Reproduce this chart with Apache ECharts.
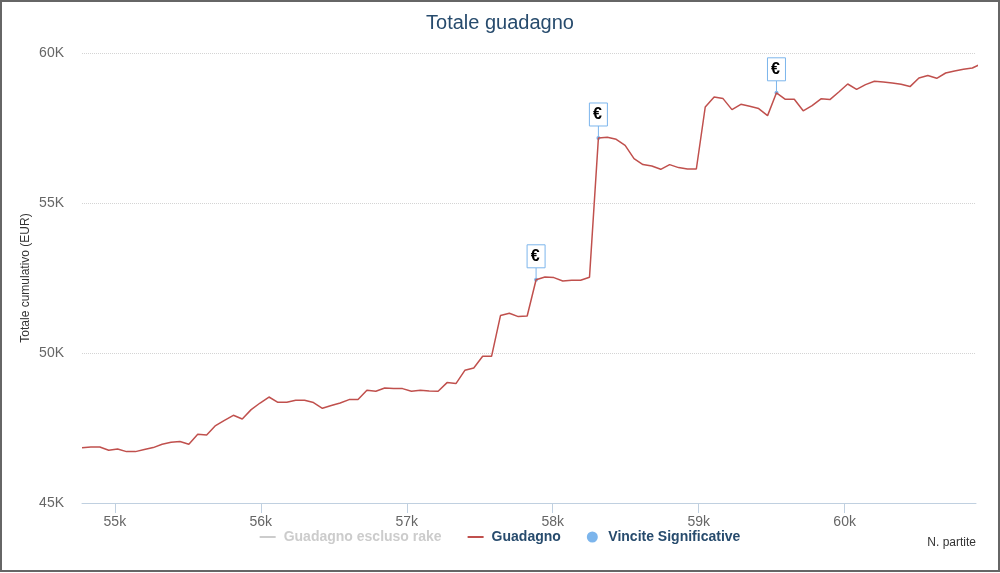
<!DOCTYPE html>
<html>
<head>
    <meta charset="utf-8">
    <title>Totale guadagno</title>
    <script src="https://cdn.jsdelivr.net/npm/echarts@6/dist/echarts.min.js"></script>
    <style>
        body { margin: 0; background: #fff; }
        #frame { position: absolute; left: 0; top: 0; width: 1000px; height: 572px; box-sizing: border-box; border: 2px solid #666; pointer-events: none; }
    </style>
</head>
<body>
<div id="main" style="width: 1000px;height:573px;"></div>
<div id="frame"></div>
<script type="text/javascript">
    // N. partite (x) for each point of the cumulative line
    var games = [
        54775, 54836, 54897, 54958, 55019, 55080, 55141, 55202, 55263, 55324,
        55385, 55446, 55507, 55568, 55629, 55690, 55751, 55812, 55873, 55934,
        55995, 56056, 56117, 56178, 56239, 56300, 56361, 56422, 56483, 56544,
        56605, 56666, 56727, 56788, 56849, 56910, 56971, 57032, 57093, 57154,
        57215, 57276, 57337, 57398, 57459, 57520, 57581, 57642, 57703, 57764,
        57825, 57886, 57947, 58008, 58069, 58130, 58191, 58252, 58313, 58374,
        58435, 58496, 58557, 58618, 58679, 58740, 58801, 58862, 58923, 58984,
        59045, 59106, 59167, 59228, 59289, 59350, 59411, 59472, 59533, 59594,
        59655, 59716, 59777, 59838, 59899, 59960, 60021, 60082, 60143, 60204,
        60265, 60326, 60387, 60448, 60509, 60570, 60631, 60692, 60753, 60814,
        60875, 60936
    ];
    // Guadagno (EUR, cumulative)
    var guadagno = [
        46840, 46867, 46867, 46757, 46800, 46713, 46713, 46780, 46847, 46957,
        47023, 47047, 46957, 47290, 47267, 47580, 47757, 47923, 47800, 48113,
        48333, 48533, 48357, 48357, 48423, 48423, 48347, 48157, 48247, 48333,
        48447, 48447, 48757, 48723, 48833, 48813, 48813, 48723, 48757, 48733,
        48723, 49013, 48980, 49423, 49500, 49890, 49890, 51247, 51323, 51213,
        51233, 52440, 52533, 52513, 52400, 52423, 52423, 52523, 57167, 57190,
        57123, 56923, 56480, 56280, 56233, 56123, 56280, 56180, 56133, 56133,
        58200, 58533, 58480, 58113, 58290, 58223, 58147, 57913, 58673, 58457,
        58457, 58073, 58247, 58473, 58447, 58700, 58967, 58790, 58947, 59057,
        59033, 59000, 58957, 58880, 59167, 59247, 59157, 59333, 59400, 59457,
        59500, 59640
    ];
    // Vincite Significative (flags)
    var flagGames = [57886, 58313, 59533];
    var flagValues = [52440, 57167, 58673];
    var flagText = '€';

    var xTicks = [55000, 56000, 57000, 58000, 59000, 60000];

    var fontFamily = '"Liberation Sans", Arial, sans-serif';
    var flagColor = '#7cb5ec';
    var lineIcon = 'path://M0,0 L16,0 L16,2 L0,2 Z';

    var myChart = echarts.init(document.getElementById('main'));

    var option = {
        animation: false,
        backgroundColor: '#ffffff',
        textStyle: { fontFamily: fontFamily },
        title: {
            text: 'Totale guadagno',
            left: 'center',
            top: 8,
            textStyle: { color: '#274b6d', fontSize: 20, fontWeight: 'normal', fontFamily: fontFamily }
        },
        legend: {
            left: 'center',
            top: 525,
            itemWidth: 16,
            itemHeight: 11,
            itemGap: 26,
            symbolKeepAspect: true,
            textStyle: { color: '#274b6d', fontSize: 14, fontWeight: 'bold', fontFamily: fontFamily, padding: [0, 0, 0, 3] },
            inactiveColor: '#cccccc',
            selected: { 'Guadagno escluso rake': false },
            data: [
                { name: 'Guadagno escluso rake', icon: lineIcon },
                { name: 'Guadagno', icon: lineIcon },
                { name: 'Vincite Significative', icon: 'circle' }
            ]
        },
        grid: { left: 82, right: 24, top: 53, bottom: 70 },
        xAxis: {
            type: 'value',
            min: 54775,
            max: 60900,
            name: 'N. partite',
            nameLocation: 'end',
            nameGap: 0,
            nameTextStyle: { color: '#333', fontSize: 12, align: 'right', verticalAlign: 'top', padding: [34, 0, 0, 0] },
            axisLine: { show: true, lineStyle: { color: '#c0d0e0', width: 1 } },
            axisTick: { show: true, length: 10, customValues: xTicks, lineStyle: { color: '#c0d0e0' } },
            axisLabel: {
                customValues: xTicks,
                margin: 12,
                color: '#666',
                fontSize: 14,
                formatter: function (v) { return (v / 1000) + 'k'; }
            },
            splitLine: { show: false }
        },
        yAxis: {
            type: 'value',
            min: 45000,
            max: 60000,
            interval: 5000,
            name: 'Totale cumulativo (EUR)',
            nameLocation: 'middle',
            nameGap: 50,
            nameMoveOverlap: false,
            nameTextStyle: { color: '#333', fontSize: 12 },
            axisLine: { show: false },
            axisTick: { show: false },
            axisLabel: {
                margin: 18,
                color: '#666',
                fontSize: 14,
                formatter: function (v) { return (v / 1000) + 'K'; }
            },
            splitLine: { show: true, lineStyle: { color: '#d4d4d4', type: 'dotted', width: 1 } }
        },
        series: [
            {
                name: 'Guadagno escluso rake',
                type: 'line',
                symbol: 'none',
                color: '#999999',
                data: []
            },
            {
                name: 'Guadagno',
                type: 'line',
                symbol: 'none',
                color: '#c0504d',
                lineStyle: { width: 1.5, color: '#c0504d' },
                data: games.map(function (g, i) { return [g, guadagno[i]]; })
            },
            {
                name: 'Vincite Significative',
                type: 'custom',
                clip: false,
                itemStyle: { color: flagColor },
                data: flagGames.map(function (g, i) { return [g, flagValues[i]]; }),
                renderItem: function (params, api) {
                    var p = api.coord([api.value(0), api.value(1)]);
                    var stem = 12, w = 18, h = 23;
                    return {
                        type: 'group',
                        children: [
                            { type: 'line', shape: { x1: p[0], y1: p[1], x2: p[0], y2: p[1] - stem }, style: { stroke: flagColor, lineWidth: 1 } },
                            { type: 'circle', shape: { cx: p[0], cy: p[1], r: 2 }, style: { fill: flagColor } },
                            { type: 'rect', shape: { x: p[0] - w / 2, y: p[1] - stem - h, width: w, height: h }, style: { fill: '#fff', stroke: flagColor, lineWidth: 1 } },
                            { type: 'text', style: { x: p[0] - 1, y: p[1] - stem - h / 2, text: flagText, align: 'center', verticalAlign: 'middle', fill: '#000', font: 'bold 16px ' + fontFamily } }
                        ]
                    };
                }
            }
        ]
    };
    myChart.setOption(option);
</script>
</body>
</html>
